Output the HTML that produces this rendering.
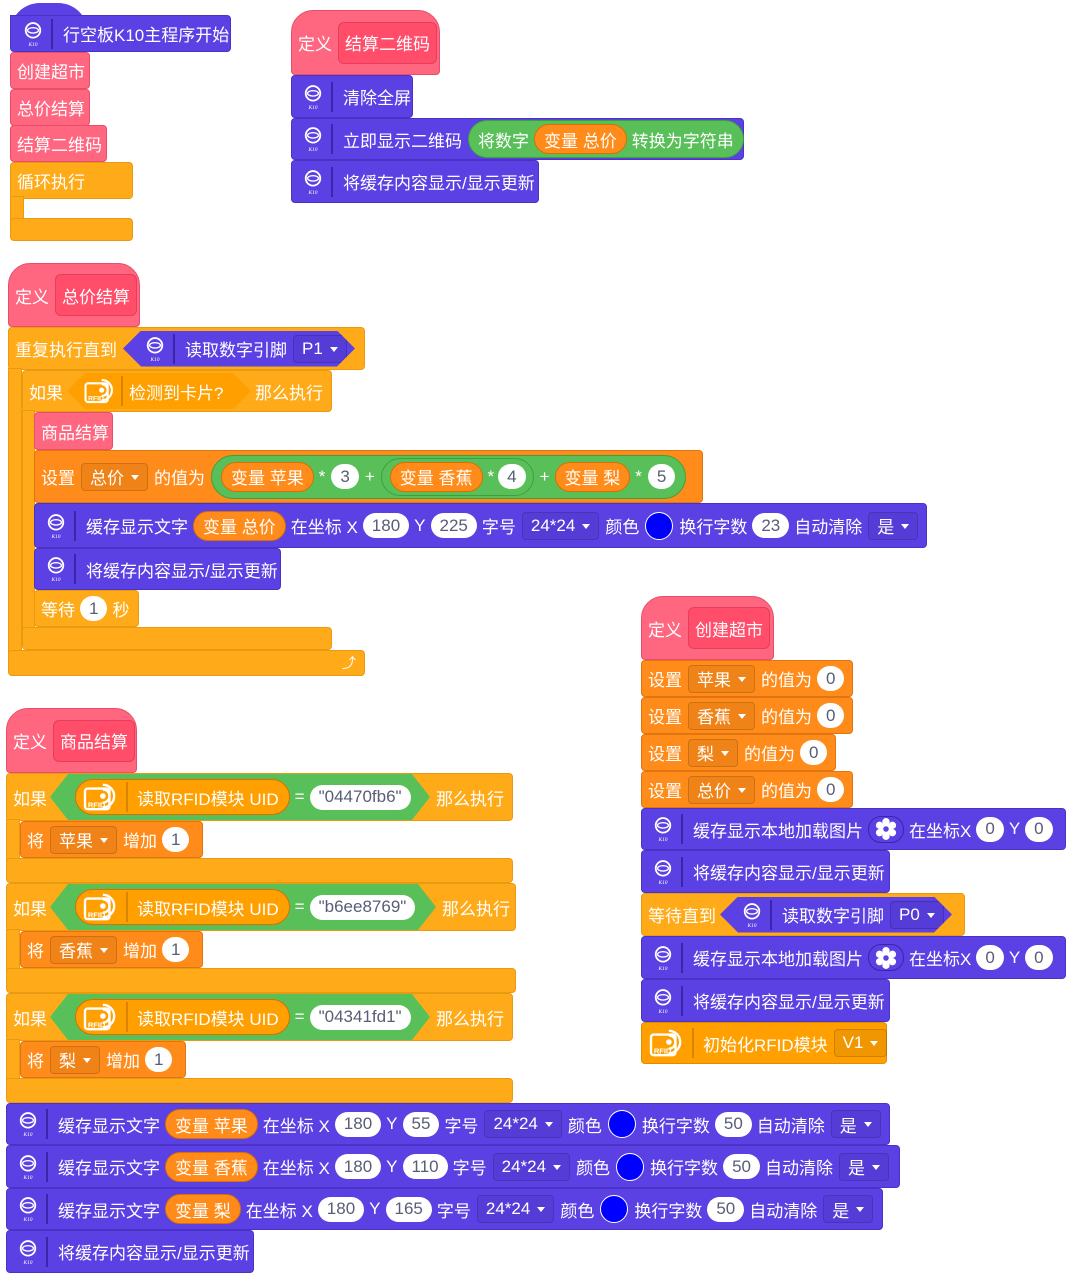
<!DOCTYPE html>
<html><head><meta charset="utf-8"><style>
body{margin:0;width:1073px;height:1280px;background:#fff;position:relative;overflow:hidden;font-family:"Liberation Sans","Noto Sans CJK SC",sans-serif;}
svg{flex-shrink:0}
.b{position:absolute;display:flex;align-items:center;box-sizing:border-box;border-radius:4px;color:#fff;font-size:17px;padding-left:6px;white-space:nowrap;}
.b>*{flex-shrink:0}
.p{background:#5b40e4;border:1px solid #4a33c4;}
.pk{background:#ff6680;border:1px solid #e84d6a;}
.o{background:#ffab19;border:1px solid #e89a10;}
.do{background:#ff8c1a;border:1px solid #e07410;}
.r{background:#ffa000;border:1px solid #e08c00;}
.ov{background:#fff;color:#575e75;border-radius:13px;height:25px;display:inline-flex;align-items:center;padding:0 9px;margin:0 5px;flex-shrink:0}
.vr{background:#ff8c1a;border:1px solid #db6e00;border-radius:15px;height:30px;display:inline-flex;align-items:center;padding:0 9px;margin:0 5px;box-sizing:border-box;flex-shrink:0}
.dd{border:1px solid rgba(0,0,0,.15);background:rgba(0,0,0,.06);border-radius:4px;height:28px;display:inline-flex;align-items:center;padding:0 8px;margin:0 6px;box-sizing:border-box;flex-shrink:0}
.dd:after{content:"";border:4px solid transparent;border-top:5px solid #fff;margin:5px 0 0 7px;}
.sep{display:inline-block;width:2px;height:30px;background:#3a26a8;margin:0 10px 0 8px;flex-shrink:0}
.sepo{display:inline-block;width:2px;height:30px;background:#d88400;margin:0 9px 0 6px;flex-shrink:0}
.g{background:#59c059;border:1px solid #3f9f3f;border-radius:19px;display:inline-flex;align-items:center;padding:0 4px;height:38px;box-sizing:border-box;flex-shrink:0}
.hex{display:inline-flex;align-items:center;height:36px;padding:0 22px;box-sizing:border-box;clip-path:polygon(0 50%,18px 0,calc(100% - 18px) 0,100% 50%,calc(100% - 18px) 100%,18px 100%);flex-shrink:0}
.col{display:inline-block;width:28px;height:28px;border-radius:50%;background:#0000ff;margin:0 6px;border:1px solid #fff;box-sizing:border-box;flex-shrink:0}
.hat{border-radius:22px 22px 4px 4px;}
.inn{background:#ff4d6a;border:1px solid #e63d5c;border-radius:6px;height:40px;display:inline-flex;align-items:center;padding:0 6px;margin-left:6px;}
</style></head><body>
<svg width="0" height="0" style="position:absolute"><defs>
<symbol id="k" viewBox="0 0 22 32"><circle cx="11" cy="12" r="8" fill="none" stroke="#fff" stroke-width="2"/><ellipse cx="11" cy="12" rx="6" ry="3" fill="none" stroke="#fff" stroke-width="1.5"/><text x="11" y="29" font-size="6" fill="#fff" text-anchor="middle" font-style="italic" font-family="Liberation Serif">K10</text></symbol>
<symbol id="rf" viewBox="0 0 40 34"><rect x="3" y="8" width="26" height="22" rx="3" fill="none" stroke="#fff" stroke-width="2.5"/><path d="M22 4a12 12 0 0 1 0 24M22 9a7 7 0 0 1 0 14" fill="none" stroke="#fff" stroke-width="2.5"/><circle cx="22" cy="16" r="3" fill="#fff"/><text x="6" y="28" font-size="8" font-weight="bold" fill="#fff" font-family="Liberation Sans">RFID</text></symbol>
<symbol id="fl" viewBox="0 0 24 24"><circle cx="12" cy="12" r="7" fill="#fff"/><circle cx="12" cy="4" r="4" fill="#fff"/><circle cx="12" cy="20" r="4" fill="#fff"/><circle cx="5" cy="8" r="4" fill="#fff"/><circle cx="19" cy="8" r="4" fill="#fff"/><circle cx="5" cy="16" r="4" fill="#fff"/><circle cx="19" cy="16" r="4" fill="#fff"/><circle cx="12" cy="12" r="3" fill="#5b40e4"/></symbol>
</defs></svg>

<!-- script 1 -->
<div style="position:absolute;left:10px;top:3px;width:78px;height:30px;border-radius:40px 40px 0 0;background:#5b40e4"></div>
<div class="b p" style="left:10px;top:15px;width:221px;height:37px;border-radius:0 4px 4px 4px;padding-left:12px"><svg width="20" height="30"><use href="#k"/></svg><span class="sep"></span>行空板K10主程序开始</div>
<div class="b pk" style="left:10px;top:52px;width:80px;height:37px">创建超市</div>
<div class="b pk" style="left:10px;top:89px;width:80px;height:37px">总价结算</div>
<div class="b pk" style="left:10px;top:125px;width:97px;height:37px">结算二维码</div>
<div class="b o" style="left:10px;top:162px;width:123px;height:37px">循环执行</div>
<div class="b o" style="left:10px;top:196px;width:14px;height:26px;border-radius:0"></div>
<div class="b o" style="left:10px;top:218px;width:123px;height:23px"></div>

<!-- script 2 -->
<div class="b pk hat" style="left:291px;top:10px;width:149px;height:65px">定义<span class="inn">结算二维码</span></div>
<div class="b p" style="left:291px;top:75px;width:122px;height:43px;padding-left:11px"><svg width="20" height="30"><use href="#k"/></svg><span class="sep"></span>清除全屏</div>
<div class="b p" style="left:291px;top:118px;width:453px;height:42px;padding-left:11px"><svg width="20" height="30"><use href="#k"/></svg><span class="sep"></span>立即显示二维码<span class="g" style="margin-left:6px;padding:0 9px">将数字<span class="vr">变量 总价</span>转换为字符串</span></div>
<div class="b p" style="left:291px;top:160px;width:248px;height:43px;padding-left:11px"><svg width="20" height="30"><use href="#k"/></svg><span class="sep"></span>将缓存内容显示/显示更新</div>

<!-- script 3 -->
<div class="b pk hat" style="left:8px;top:263px;width:132px;height:64px">定义<span class="inn">总价结算</span></div>
<div class="b o" style="left:8px;top:327px;width:357px;height:43px">重复执行直到<span class="hex" style="background:#5b40e4;margin-left:6px;width:232px"><svg width="20" height="30"><use href="#k"/></svg><span class="sep"></span>读取数字引脚<span class="dd" style="border-color:#4530b8">P1</span></span></div>
<div class="b o" style="left:8px;top:368px;width:14px;height:285px;border-radius:0"></div>
<div class="b o" style="left:8px;top:650px;width:357px;height:26px;justify-content:flex-end;padding-right:8px;font-size:14px">⤴</div>
<div class="b o" style="left:22px;top:370px;width:310px;height:42px">如果<span class="hex" style="background:#ffa000;margin:0 4px;width:184px;padding:0 16px;border:0"><svg width="34" height="30"><use href="#rf"/></svg><span class="sepo" style="margin:0 6px 0 4px"></span>检测到卡片?</span>那么执行</div>
<div class="b o" style="left:22px;top:410px;width:13px;height:220px;border-radius:0"></div>
<div class="b o" style="left:22px;top:627px;width:310px;height:23px"></div>
<div class="b pk" style="left:34px;top:412px;width:79px;height:38px">商品结算</div>
<div class="b do" style="left:34px;top:450px;width:669px;height:53px">设置<span class="dd">总价</span>的值为<span class="g" style="margin-left:6px;height:44px;border-radius:22px"><span class="vr">变量 苹果</span>*<span class="ov" style="margin:0 6px">3</span>+<span class="g" style="background:#59c059;margin:0 6px;border-color:#3f9f3f;padding:0 3px"><span class="vr" style="margin:0 5px">变量 香蕉</span>*<span class="ov" style="margin:0 4px">4</span></span>+<span class="vr">变量 梨</span>*<span class="ov" style="margin:0 6px">5</span></span></div>
<div class="b p" style="left:34px;top:503px;width:893px;height:45px;padding-left:11px"><svg width="20" height="30"><use href="#k"/></svg><span class="sep"></span>缓存显示文字<span class="vr">变量 总价</span>在坐标 X<span class="ov">180</span>Y<span class="ov">225</span>字号<span class="dd">24*24</span>颜色<span class="col"></span>换行字数<span class="ov">23</span>自动清除<span class="dd">是</span></div>
<div class="b p" style="left:34px;top:548px;width:247px;height:42px;padding-left:11px"><svg width="20" height="30"><use href="#k"/></svg><span class="sep"></span>将缓存内容显示/显示更新</div>
<div class="b o" style="left:34px;top:590px;width:105px;height:37px">等待<span class="ov">1</span>秒</div>

<!-- script 4 -->
<div class="b pk hat" style="left:6px;top:708px;width:131px;height:65px">定义<span class="inn">商品结算</span></div>

<div class="b o" style="left:6px;top:773px;width:507px;height:48px">如果<span class="hex" style="background:#59c059;height:46px;margin:0 6px 0 3px;padding:0 22px 0 20px;width:380px"><span class="vr" style="background:#ffa000;height:36px;border-radius:18px;padding:0 10px 0 6px"><svg width="38" height="32"><use href="#rf"/></svg><span class="sepo"></span>读取RFID模块 UID</span>=<span class="ov">"04470fb6"</span></span>那么执行</div>
<div class="b o" style="left:6px;top:819px;width:14px;height:42px;border-radius:0"></div>
<div class="b do" style="left:20px;top:821px;width:183px;height:37px">将<span class="dd">苹果</span>增加<span class="ov">1</span></div>
<div class="b o" style="left:6px;top:858px;width:507px;height:25px"></div>

<div class="b o" style="left:6px;top:883px;width:510px;height:48px">如果<span class="hex" style="background:#59c059;height:46px;margin:0 6px 0 3px;padding:0 22px 0 20px;width:386px"><span class="vr" style="background:#ffa000;height:36px;border-radius:18px;padding:0 10px 0 6px"><svg width="38" height="32"><use href="#rf"/></svg><span class="sepo"></span>读取RFID模块 UID</span>=<span class="ov">"b6ee8769"</span></span>那么执行</div>
<div class="b o" style="left:6px;top:929px;width:14px;height:42px;border-radius:0"></div>
<div class="b do" style="left:20px;top:931px;width:183px;height:37px">将<span class="dd">香蕉</span>增加<span class="ov">1</span></div>
<div class="b o" style="left:6px;top:968px;width:510px;height:25px"></div>

<div class="b o" style="left:6px;top:993px;width:507px;height:48px">如果<span class="hex" style="background:#59c059;height:46px;margin:0 6px 0 3px;padding:0 22px 0 20px;width:380px"><span class="vr" style="background:#ffa000;height:36px;border-radius:18px;padding:0 10px 0 6px"><svg width="38" height="32"><use href="#rf"/></svg><span class="sepo"></span>读取RFID模块 UID</span>=<span class="ov">"04341fd1"</span></span>那么执行</div>
<div class="b o" style="left:6px;top:1039px;width:14px;height:42px;border-radius:0"></div>
<div class="b do" style="left:20px;top:1041px;width:166px;height:37px">将<span class="dd">梨</span>增加<span class="ov">1</span></div>
<div class="b o" style="left:6px;top:1078px;width:507px;height:25px"></div>

<div class="b p" style="left:6px;top:1103px;width:884px;height:42px;padding-left:11px"><svg width="20" height="30"><use href="#k"/></svg><span class="sep"></span>缓存显示文字<span class="vr">变量 苹果</span>在坐标 X<span class="ov">180</span>Y<span class="ov">55</span>字号<span class="dd">24*24</span>颜色<span class="col"></span>换行字数<span class="ov">50</span>自动清除<span class="dd">是</span></div>
<div class="b p" style="left:6px;top:1145px;width:894px;height:43px;padding-left:11px"><svg width="20" height="30"><use href="#k"/></svg><span class="sep"></span>缓存显示文字<span class="vr">变量 香蕉</span>在坐标 X<span class="ov">180</span>Y<span class="ov">110</span>字号<span class="dd">24*24</span>颜色<span class="col"></span>换行字数<span class="ov">50</span>自动清除<span class="dd">是</span></div>
<div class="b p" style="left:6px;top:1188px;width:877px;height:42px;padding-left:11px"><svg width="20" height="30"><use href="#k"/></svg><span class="sep"></span>缓存显示文字<span class="vr">变量 梨</span>在坐标 X<span class="ov">180</span>Y<span class="ov">165</span>字号<span class="dd">24*24</span>颜色<span class="col"></span>换行字数<span class="ov">50</span>自动清除<span class="dd">是</span></div>
<div class="b p" style="left:6px;top:1230px;width:248px;height:43px;padding-left:11px"><svg width="20" height="30"><use href="#k"/></svg><span class="sep"></span>将缓存内容显示/显示更新</div>

<!-- script 5 -->
<div class="b pk hat" style="left:641px;top:596px;width:133px;height:64px">定义<span class="inn">创建超市</span></div>
<div class="b do" style="left:641px;top:660px;width:212px;height:37px">设置<span class="dd">苹果</span>的值为<span class="ov">0</span></div>
<div class="b do" style="left:641px;top:697px;width:212px;height:37px">设置<span class="dd">香蕉</span>的值为<span class="ov">0</span></div>
<div class="b do" style="left:641px;top:734px;width:195px;height:37px">设置<span class="dd">梨</span>的值为<span class="ov">0</span></div>
<div class="b do" style="left:641px;top:771px;width:212px;height:37px">设置<span class="dd">总价</span>的值为<span class="ov">0</span></div>
<div class="b p" style="left:641px;top:808px;width:425px;height:42px;padding-left:11px"><svg width="20" height="30"><use href="#k"/></svg><span class="sep"></span>缓存显示本地加载图片<span class="ov" style="background:#5b40e4;border:1px solid #3a26a8;padding:0 6px"><svg width="22" height="22"><use href="#fl"/></svg></span>在坐标X<span class="ov">0</span>Y<span class="ov">0</span></div>
<div class="b p" style="left:641px;top:850px;width:249px;height:43px;padding-left:11px"><svg width="20" height="30"><use href="#k"/></svg><span class="sep"></span>将缓存内容显示/显示更新</div>
<div class="b o" style="left:641px;top:893px;width:324px;height:43px">等待直到<span class="hex" style="background:#5b40e4;margin-left:4px;width:232px"><svg width="20" height="30"><use href="#k"/></svg><span class="sep"></span>读取数字引脚<span class="dd" style="border-color:#4530b8">P0</span></span></div>
<div class="b p" style="left:641px;top:936px;width:425px;height:43px;padding-left:11px"><svg width="20" height="30"><use href="#k"/></svg><span class="sep"></span>缓存显示本地加载图片<span class="ov" style="background:#5b40e4;border:1px solid #3a26a8;padding:0 6px"><svg width="22" height="22"><use href="#fl"/></svg></span>在坐标X<span class="ov">0</span>Y<span class="ov">0</span></div>
<div class="b p" style="left:641px;top:979px;width:249px;height:43px;padding-left:11px"><svg width="20" height="30"><use href="#k"/></svg><span class="sep"></span>将缓存内容显示/显示更新</div>
<div class="b r" style="left:641px;top:1022px;width:246px;height:42px;padding-left:6px"><svg width="38" height="32"><use href="#rf"/></svg><span class="sepo"></span>初始化RFID模块<span class="dd">V1</span></div>
</body></html>
